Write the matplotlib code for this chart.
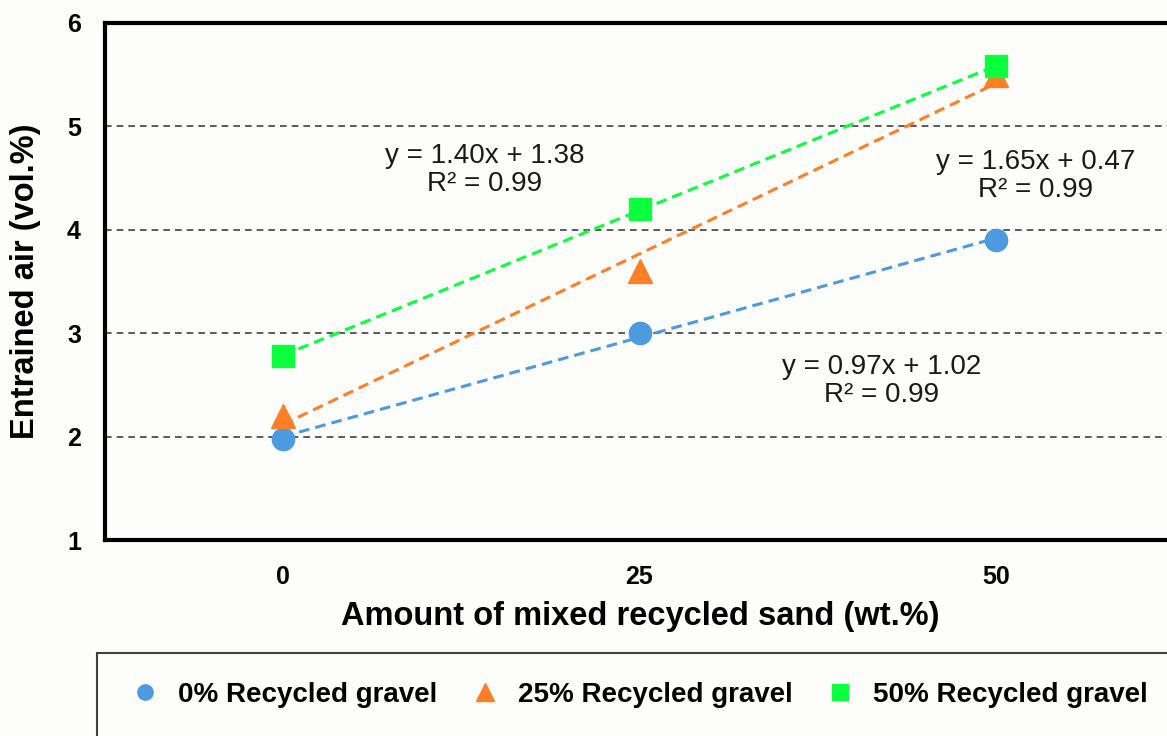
import numpy as np
import matplotlib
matplotlib.use("Agg")
import matplotlib.pyplot as plt
from matplotlib.patches import Rectangle
from matplotlib.lines import Line2D

# ---- data ----
sand = [0, 25, 50]
tick_labels = ["0", "25", "50"]
gravel0 = [1.98, 3.00, 3.90]
gravel25 = [2.20, 3.60, 5.50]
gravel50 = [2.78, 4.20, 5.58]
series_names = ["0% Recycled gravel", "25% Recycled gravel", "50% Recycled gravel"]
eq_texts = ["y = 0.97x + 1.02\nR² = 0.99",
            "y = 1.65x + 0.47\nR² = 0.99",
            "y = 1.40x + 1.38\nR² = 0.99"]

colors = ["#4C9BE0", "#FF7F27", "#0BFF3C"]
markers = ["o", "^", "s"]

plt.rcParams['font.family'] = ['Liberation Sans', 'DejaVu Sans']

W, H = 1167, 736
fig = plt.figure(figsize=(W / 100, H / 100), dpi=100)
bg = "#fdfdfb"
fig.patch.set_facecolor(bg)

# axes geometry (pixels)
left_px, top_px, bottom_px = 104.5, 23, 540
width_px = 1070
ax = fig.add_axes([left_px / W, (H - bottom_px) / H, width_px / W, (bottom_px - top_px) / H])
ax.set_facecolor(bg)

ax.set_xlim(-12.5, 62.5)
ax.set_ylim(1, 6)

# gridlines
for yv in [2, 3, 4, 5]:
    ax.axhline(yv, color="#404040", lw=1.2, ls=(0, (4, 3)), zorder=1)

all_series = [gravel0, gravel25, gravel50]
idx = np.array([1, 2, 3])
for vals, c, m in zip(all_series, colors, markers):
    slope, icpt = np.polyfit(idx, vals, 1)
    ax.plot(sand, slope * idx + icpt, color=c, lw=2.2, ls=(0, (3.5, 2)), zorder=2)
    ms = 17 if m == "^" else 16
    ax.plot(sand, vals, ls="none", marker=m, color=c, ms=ms, mec=c, zorder=3)

# equations
eq_pos = [(882, 381), (1036, 176), (485, 170)]
for (px, py), t in zip(eq_pos, eq_texts):
    fig.text(px / W, 1 - py / H, t, ha="center", va="center", fontsize=20,
             color="#1a1a1a", linespacing=1.1)

ax.set_xticks(sand)
ax.set_xticklabels(tick_labels)
ax.set_yticks([1, 2, 3, 4, 5, 6])
ax.tick_params(axis="both", length=0, labelsize=18)
ax.tick_params(axis="x", pad=18)
ax.tick_params(axis="y", pad=17)
for lab in ax.get_xticklabels() + ax.get_yticklabels():
    lab.set_fontweight("bold")

for s in ["top", "left", "bottom"]:
    ax.spines[s].set_linewidth(3)
    ax.spines[s].set_color("black")
ax.spines["right"].set_visible(False)

ax.set_xlabel("Amount of mixed recycled sand (wt.%)", fontsize=23.5, fontweight="bold")
ax.set_ylabel("Entrained air (vol.%)", fontsize=23.5, fontweight="bold")
ax.xaxis.set_label_coords(((640 - left_px) / width_px), -(616 - bottom_px) / (bottom_px - top_px))
ax.yaxis.set_label_coords(-(left_px - 26) / width_px, 0.5)
ax.xaxis.label.set_va("center")
ax.yaxis.label.set_va("center")

# legend box
fig.add_artist(Rectangle((97 / W, -0.05), 1.0, (736 - 653) / H + 0.05, transform=fig.transFigure,
                         facecolor="none", edgecolor="#404040", lw=1.5))
handles = [Line2D([], [], ls="none", marker=m, color=c, ms=11 if m != "^" else 13)
           for c, m in zip(colors, markers)]
leg = fig.legend(handles, series_names, loc="center left", ncol=3,
                 bbox_to_anchor=(117 / W, 1 - 695 / H), frameon=False,
                 prop={"weight": "bold", "size": 20}, handlelength=1.0,
                 handletextpad=0.7, columnspacing=1.2, borderpad=0)

fig.savefig("out.png", dpi=100, facecolor=bg)
